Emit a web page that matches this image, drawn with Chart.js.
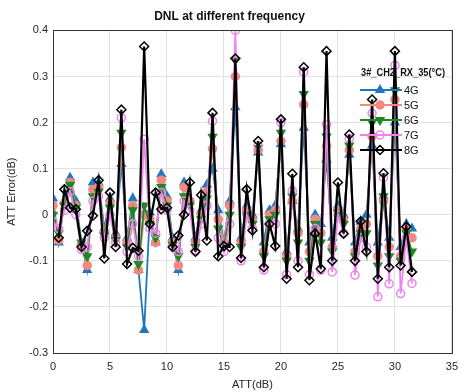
<!DOCTYPE html>
<html><head><meta charset="utf-8">
<script src="https://cdn.jsdelivr.net/npm/chart.js@4/dist/chart.umd.min.js"></script>
<style>html,body{margin:0;padding:0;background:#fff}#wrap{width:465px;height:392px}</style>
</head><body><div id="wrap"><canvas id="c" width="465" height="392"></canvas></div>
<script>
const chartTitle = 'DNL at different frequency';
const legendTitle = '3#_CH2_RX_35(\u00B0C)';
const xLabel = 'ATT(dB)';
const yLabel = 'ATT Error(dB)';
const seriesNames = ['4G','5G','6G','7G','8G'];

const att = [0,0.5,1,1.5,2,2.5,3,3.5,4,4.5,5,5.5,6,6.5,7,7.5,
  8,8.5,9,9.5,10,10.5,11,11.5,12,12.5,13,13.5,14,14.5,15,15.5,
  16,16.5,17,17.5,18,18.5,19,19.5,20,20.5,21,21.5,22,22.5,23,23.5,
  24,24.5,25,25.5,26,26.5,27,27.5,28,28.5,29,29.5,30,30.5,31,31.5];

const dnl4G = [0.035,-0.06,0.03,0.08,0.03,-0.06,-0.12,0.07,
 0.07,-0.03,0.035,-0.04,0.11,-0.05,0.035,-0.12,
 -0.25,0.005,-0.06,0.088,0.04,-0.05,-0.12,0.07,
 0.035,-0.05,0.01,0.065,0.10,0.01,-0.06,0.03,
 0.233,-0.05,0.02,0.0,0.135,-0.06,0.01,0.02,
 0.153,-0.08,0.03,-0.03,0.189,-0.06,0.0,-0.02,
 0.12,-0.05,0.02,0.0,0.13,-0.06,-0.015,0.0,
 0.15,-0.06,0.04,-0.05,0.2,-0.07,-0.02,-0.03];

const dnl5G = [0.02,-0.055,0.025,0.07,0.02,-0.065,-0.11,0.055,
 0.06,-0.04,0.025,-0.05,0.146,-0.06,0.02,-0.12,
 0.0,-0.01,-0.06,0.075,0.03,-0.06,-0.11,0.06,
 0.03,-0.06,0.0,0.05,0.143,-0.01,-0.06,0.02,
 0.30,-0.06,0.01,-0.01,0.14,-0.08,0.0,0.01,
 0.16,-0.09,0.03,-0.04,0.239,-0.08,-0.01,-0.04,
 0.15,-0.07,0.01,-0.01,0.14,-0.08,-0.03,-0.02,
 0.17,-0.09,0.03,-0.07,0.25,-0.09,-0.03,-0.05];

const dnl6G = [0.0,-0.04,0.02,0.065,0.015,-0.06,-0.09,0.04,
 0.05,-0.045,0.015,-0.055,0.178,-0.07,0.01,-0.107,
 0.02,-0.02,-0.05,0.06,0.02,-0.065,-0.09,0.04,
 0.02,-0.07,-0.01,0.035,0.169,-0.03,-0.07,0.0,
 0.335,-0.07,0.0,-0.02,0.145,-0.09,-0.01,0.0,
 0.178,-0.1,0.04,-0.06,0.262,-0.1,-0.02,-0.06,
 0.17,-0.08,0.005,-0.02,0.15,-0.09,-0.04,-0.04,
 0.2,-0.11,0.04,-0.09,0.27,-0.1,-0.04,-0.08];

const dnl7G = [-0.015,-0.03,0.01,0.05,0.0,-0.075,-0.07,0.03,
 0.04,-0.05,0.0,-0.06,0.21,-0.08,-0.02,-0.09,
 0.164,-0.03,-0.04,0.048,0.01,-0.07,-0.08,0.03,
 0.01,-0.08,-0.02,0.02,0.203,-0.05,-0.08,-0.02,
 0.4,-0.1,0.0,-0.03,0.15,-0.12,-0.02,-0.02,
 0.2,-0.13,0.052,-0.1,0.31,-0.13,-0.03,-0.12,
 0.196,-0.124,0.0,-0.04,0.165,-0.131,-0.05,-0.07,
 0.22,-0.178,0.081,-0.15,0.324,-0.171,-0.05,-0.149];

const dnl8G = [null,-0.05,0.055,0.015,0.012,-0.07,-0.035,-0.002,
 0.075,-0.095,0.048,-0.07,0.228,-0.107,-0.072,-0.078,
 0.365,-0.02,0.048,0.012,0.015,-0.07,-0.045,0.0,
 0.07,-0.08,0.043,-0.056,0.221,-0.09,-0.068,-0.07,
 0.339,-0.094,0.055,-0.034,0.16,-0.114,-0.02,-0.068,
 0.207,-0.139,0.089,-0.114,0.32,-0.142,-0.041,-0.117,
 0.355,-0.1,0.07,-0.041,0.174,-0.1,-0.014,-0.08,
 0.25,-0.139,0.09,-0.114,0.355,-0.11,-0.026,-0.124];

const allSeries = [dnl4G, dnl5G, dnl6G, dnl7G, dnl8G];

const styles = [
  {color:'#1f77c0', fill:'#1f77c0', pointStyle:'triangle', rotation:0, radius:4.5, width:1.8},
  {color:'#f4877f', fill:'#f4877f', pointStyle:'circle', rotation:0, radius:4, width:1.8},
  {color:'#1b8a23', fill:'#1b8a23', pointStyle:'triangle', rotation:180, radius:4.5, width:1.8},
  {color:'#ee82ee', fill:'rgba(255,255,255,0)', pointStyle:'circle', rotation:0, radius:4, width:1.8},
  {color:'#000000', fill:'rgba(255,255,255,0)', pointStyle:'rectRot', rotation:0, radius:4.5, width:2.2}
];

const FONT = "'Liberation Sans', Arial, sans-serif";

const datasets = allSeries.map((s, i) => ({
  label: seriesNames[i],
  data: att.map((x, k) => ({x: x, y: s[k]})),
  borderColor: styles[i].color,
  backgroundColor: styles[i].fill,
  pointBackgroundColor: styles[i].fill,
  pointBorderColor: styles[i].color,
  pointStyle: styles[i].pointStyle,
  rotation: styles[i].rotation,
  pointRadius: styles[i].radius,
  pointBorderWidth: 1.5,
  borderWidth: styles[i].width,
  tension: 0,
  spanGaps: false,
  order: 5 - i
}));

const framePlugin = {
  id: 'frameAndLegend',
  afterDraw(chart) {
    const ctx = chart.ctx;
    const a = chart.chartArea;
    ctx.save();
    ctx.strokeStyle = '#333';
    ctx.lineWidth = 1;
    ctx.strokeRect(Math.round(a.left) + 0.5, Math.round(a.top) + 0.5,
      Math.round(a.right - a.left), Math.round(a.bottom - a.top));
    // legend (no box, inside plot)
    ctx.font = "bold 11px " + FONT;
    ctx.fillStyle = '#111';
    ctx.textAlign = 'left';
    ctx.textBaseline = 'middle';
    const w = ctx.measureText(legendTitle).width;
    const sx = 84 / w;
    ctx.save();
    ctx.translate(361, 73);
    ctx.scale(sx, 1);
    ctx.fillText(legendTitle, 0, 0);
    ctx.restore();
    ctx.font = "11px " + FONT;
    for (let i = 0; i < seriesNames.length; i++) {
      const y = 90 + i * 15;
      const st = styles[i];
      ctx.strokeStyle = st.color;
      ctx.lineWidth = st.width;
      ctx.beginPath();
      ctx.moveTo(360, y);
      ctx.lineTo(402, y);
      ctx.stroke();
      ctx.fillStyle = st.fill;
      ctx.strokeStyle = st.color;
      ctx.lineWidth = 1.5;
      Chart.helpers.drawPoint(ctx, {pointStyle: st.pointStyle, rotation: st.rotation, radius: st.radius, borderWidth: 1.5}, 380, y);
      ctx.fillStyle = '#111';
      ctx.fillText(seriesNames[i], 404, y + 1);
    }
    ctx.restore();
  }
};

const fmt = v => {
  const r = Math.round(v * 10) / 10;
  return (Math.abs(r) < 1e-9) ? '0' : String(r);
};

new Chart(document.getElementById('c'), {
  type: 'line',
  data: { datasets },
  options: {
    responsive: false,
    devicePixelRatio: 1,
    animation: false,
    layout: { padding: { left: 0, right: 6, top: 0, bottom: 0 } },
    plugins: {
      legend: { display: false },
      tooltip: { enabled: false },
      title: {
        display: true, text: chartTitle, color: '#111',
        font: { family: FONT, size: 12, weight: 'bold' },
        padding: { top: 9, bottom: 7 }
      }
    },
    scales: {
      x: {
        type: 'linear', min: 0, max: 35,
        afterFit: s => { s.height = 39; },
        ticks: { stepSize: 5, color: '#262626', font: { family: FONT, size: 11 }, padding: 7, maxRotation: 0, callback: v => String(v) },
        grid: { color: '#e2e2e2', drawTicks: false },
        border: { display: false },
        title: { display: true, text: xLabel, color: '#262626', font: { family: FONT, size: 11 }, padding: { top: 2, bottom: 0 } }
      },
      y: {
        type: 'linear', min: -0.3, max: 0.4,
        afterFit: s => { s.width = 53; },
        ticks: { stepSize: 0.1, color: '#262626', font: { family: FONT, size: 11 }, padding: 5, callback: v => fmt(v) },
        grid: { color: '#e2e2e2', drawTicks: false },
        border: { display: false },
        title: { display: true, text: yLabel, color: '#262626', font: { family: FONT, size: 11 }, padding: { top: 5, bottom: 0 } }
      }
    }
  },
  plugins: [framePlugin]
});
</script></body></html>
